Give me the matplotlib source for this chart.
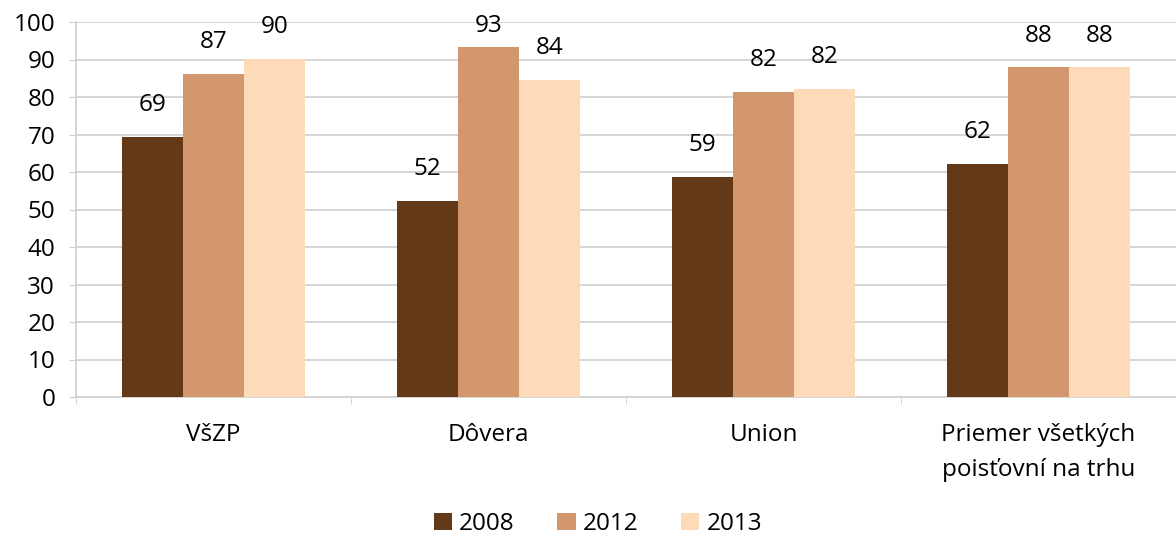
import matplotlib
matplotlib.use("Agg")
import matplotlib.pyplot as plt
import numpy as np

plt.rcParams['font.family'] = ['Open Sans', 'DejaVu Sans']

categories = ["VšZP", "Dôvera", "Union", "Priemer všetkých\npoisťovní na trhu"]
years = ["2008", "2012", "2013"]
values_2008 = [69.4, 52.4, 58.8, 62.1]
values_2012 = [86.2, 93.4, 81.4, 87.9]
values_2013 = [90.2, 84.5, 82.2, 87.9]
labels_2008 = ["69", "52", "59", "62"]
labels_2012 = ["87", "93", "82", "88"]
labels_2013 = ["90", "84", "82", "88"]
colors = ["#643917", "#D2976D", "#FDDBB8"]

series = [values_2008, values_2012, values_2013]
series_labels = [labels_2008, labels_2012, labels_2013]

fig = plt.figure(figsize=(11.76, 5.36), dpi=100)
ax = fig.add_axes([76 / 1176, 1 - 397 / 536, 1 - 76 / 1176, 375 / 536])

x = np.arange(len(categories))
width = 0.223
fs = 17.5
grid_col = "#D0D0D0"

for i, (vals, labs) in enumerate(zip(series, series_labels)):
    pos = x + (i - 1) * width
    ax.bar(pos, vals, width, color=colors[i], label=years[i], zorder=3)
    for xp, v, t in zip(pos, vals, labs):
        # label sits above the bar, pushed down if it would leave the plot
        ax.text(xp, min(v + 8.5, 99), t, ha="center", va="center",
                fontsize=fs, color="black")

ax.set_xlim(-0.5, 3.5)
ax.set_ylim(0, 100)
ax.set_yticks(np.arange(0, 101, 10))
ax.yaxis.grid(True, color=grid_col, linewidth=1.2, zorder=0)
ax.tick_params(axis="y", length=5, color=grid_col, pad=10, labelsize=fs)

ax.set_xticks(x)
ax.set_xticklabels(categories, fontsize=fs, linespacing=1.6)
ax.set_xticks(np.arange(-0.5, 3.6, 1), minor=True)
ax.tick_params(axis="x", which="major", length=0, pad=19)
ax.tick_params(axis="x", which="minor", length=5, color=grid_col)

for side in ["top", "right"]:
    ax.spines[side].set_visible(False)
for side in ["left", "bottom"]:
    ax.spines[side].set_color(grid_col)
    ax.spines[side].set_linewidth(1.2)

fig.legend(loc="center", bbox_to_anchor=(598 / 1176, 1 - 524 / 536), ncol=3,
           frameon=False, fontsize=fs, handlelength=0.75, handleheight=0.75,
           handletextpad=0.3, columnspacing=1.75, borderaxespad=0)

fig.savefig("out.png", dpi=100)
